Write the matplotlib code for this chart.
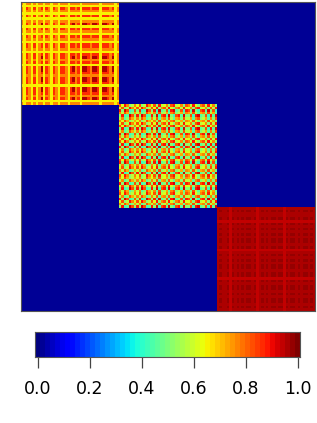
import matplotlib
matplotlib.use('Agg')
import matplotlib.pyplot as plt
import numpy as np

# cell estimates, one digit per cell
# first block: row patterns, then the order they appear in from the top
A6 = '6666666666' '6666666666' '6666666666' '6666666666'
A7 = '7677676776' '7767767776' '7777677777' '7767777767'
A8 = '7687686786' '8768768876' '8878688878' '8868887867'
A9 = '7687686796' '8768768876' '8978699879' '9869987967'
BLOCK_1 = [A7, A6, A8, A7, A6, A8, A6, A7, A9, A6,
           A8, A7, A6, A8, A7, A6, A8, A8, A7, A6,
           A8, A9, A7, A8, A6, A9, A9, A8, A7, A9,
           A9, A8, A6, A9, A9, A8, A7, A9, A6, A7]

B_A1 = '9499449494' '4994949449' '4994494994' '9449949494'
B_A2 = '8688668686' '6886868668' '6886686886' '8668868686'
B_A3 = '7577557575' '5775757557' '5775575775' '7557757575'
B_B1 = '4944994949' '9449494994' '9449949449' '4994494949'
B_B2 = '6866886868' '8668686886' '8668868668' '6886686868'
B_B3 = '5755775757' '7557575775' '7557757557' '5775575757'
B_M = '7677667676' '6776767667' '6776676776' '7667767676'
BLOCK_2 = [B_A2, B_B2, B_A1, B_A3, B_B1, B_B3, B_M, B_B2, B_A2, B_B1,
           B_B3, B_A1, B_A3, B_B2, B_A2, B_B1, B_A1, B_B3, B_B2, B_A3,
           B_B1, B_A2, B_A1, B_B3, B_B2, B_A3, B_B1, B_A2, B_M, B_B3,
           B_A1, B_B2, B_B1, B_A3, B_A2, B_B3, B_A1, B_B2, B_A3, B_B1]

# third block sits in a narrow range, digits are hundredths above 0.90
C4 = '4444444444' '4444444444' '4444444444' '4444444444'
C5 = '5555545555' '5555554555' '5555555455' '5555555555'
C6 = '6656646665' '6666564666' '6566666466' '6656666566'
C7 = '6756747675' '7677574676' '7577677476' '7757677576'
BLOCK_3 = [C6, C7, C5, C6, C7, C4, C7, C6, C7, C5,
           C7, C6, C7, C7, C5, C7, C4, C6, C7, C6,
           C7, C5, C7, C7, C6, C7, C7, C4, C7, C6,
           C7, C7, C5, C7, C6, C7, C7, C5, C7, C6]

OFF_DIAGONAL = [
    [0.02, 0.02, 0.02],
    [0.02, 0.02, 0.02],
    [0.02, 0.02, 0.02],
]
CBAR_TICKS = [0.0, 0.2, 0.4, 0.6, 0.8, 1.0]
CBAR_LEVELS = 53

W, H = 317, 423
FRAME = '#555555'


def decode(rows, scale, offset):
    return np.array([[int(c) for c in r] for r in rows]) * scale + offset


cmap = plt.get_cmap('jet', CBAR_LEVELS)

fig = plt.figure(figsize=(W / 100, H / 100), dpi=100)

ax = fig.add_axes([21 / W, 1 - 311 / H, 294 / W, 309 / H])
ax.imshow(OFF_DIAGONAL, cmap=cmap, vmin=0, vmax=1, extent=(0, 3, 3, 0), aspect='auto')
block2 = decode(BLOCK_2, 0.1, 0.02)
block2 = (block2 + block2.T) / 2  # the picture is symmetric about the diagonal
blocks = [decode(BLOCK_1, 0.1, 0.06), block2, decode(BLOCK_3, 0.01, 0.90)]
for i, b in enumerate(blocks):
    ax.imshow(b, cmap=cmap, vmin=0, vmax=1, extent=(i, i + 1, i + 1, i),
              aspect='auto', interpolation='nearest')
ax.set_xlim(0, 3)
ax.set_ylim(3, 0)
ax.set_xticks([])
ax.set_yticks([])
for s in ax.spines.values():
    s.set_color(FRAME)
    s.set_linewidth(0.8)

half = 0.5 / (CBAR_LEVELS - 1)
cax = fig.add_axes([35.3 / W, 1 - 357.3 / H, 264.7 / W, 25.6 / H])
cax.imshow(np.linspace(0, 1, CBAR_LEVELS)[None, :], cmap=cmap, vmin=0, vmax=1,
           extent=(-half, 1 + half, 0, 1), aspect='auto', interpolation='nearest')
cax.set_yticks([])
cax.set_xticks(CBAR_TICKS)
cax.set_xticklabels(['%.1f' % t for t in CBAR_TICKS], fontsize=12.5, color='black')
cax.tick_params(axis='x', length=7.7, width=0.9, color='#444444', pad=9)
for s in cax.spines.values():
    s.set_color(FRAME)
    s.set_linewidth(0.8)

plt.savefig('out.png', dpi=100)
plt.close()
